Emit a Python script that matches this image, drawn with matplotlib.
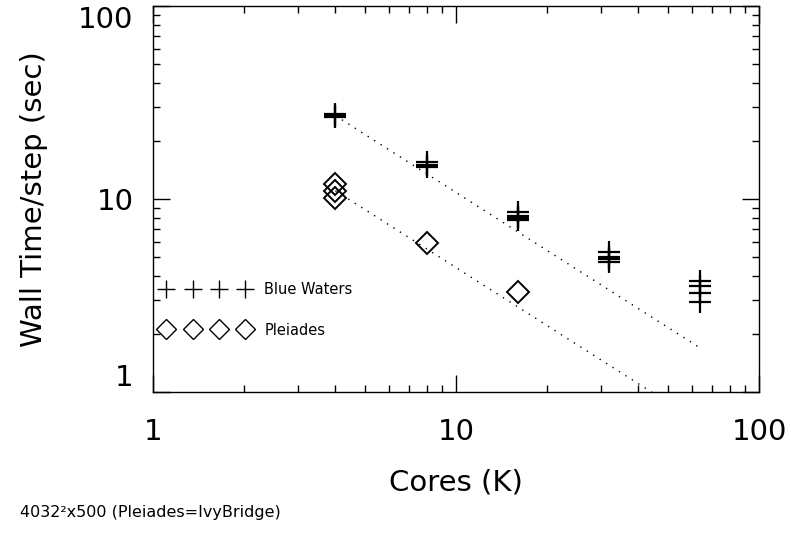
import matplotlib
matplotlib.use("Agg")
import matplotlib.pyplot as plt
import numpy as np
from matplotlib.lines import Line2D

# cores (K) and wall time per step (sec), several runs per core count
bw_cores = [4, 4, 4, 8, 8, 8, 16, 16, 16, 16, 32, 32, 32, 32, 64, 64, 64, 64]
bw_time = [27.5, 27.0, 26.6, 15.5, 15.0, 14.6, 8.6, 8.2, 8.0, 7.8,
           5.3, 5.0, 4.9, 4.7, 3.75, 3.55, 3.25, 2.92]
pl_cores = [4, 4, 4, 8, 16]
pl_time = [12.0, 11.0, 10.1, 5.9, 3.3]

fit_x_bw = np.array([4, 64])
fit_x_pl = np.array([4, 64])

fig = plt.figure(figsize=(7.91, 5.33), dpi=100)
ax = fig.add_axes([153/791, 141/533, 606/791, 386/533])

# ideal scaling lines from the 4K runs
bw0 = np.mean(bw_time[:3])
pl0 = np.mean(pl_time[:3])
ax.plot(fit_x_bw, bw0 * 4 / fit_x_bw, color='black', lw=1.0, ls=(0, (1, 4.5)))
ax.plot(fit_x_pl, pl0 * 4 / fit_x_pl, color='black', lw=1.0, ls=(0, (1, 4.5)))

ax.plot(bw_cores, bw_time, ls='none', marker='+', ms=16, mew=1.6, color='black')
ax.plot(pl_cores, pl_time, ls='none', marker='D', ms=11, mew=1.4,
        mfc='none', mec='black')

ax.set_xscale('log')
ax.set_yscale('log')
ax.set_xlim(1, 100)
ax.set_ylim(1, 100)

ax.set_xticks([1, 10, 100])
ax.set_xticklabels(['1', '10', '100'])
ax.set_yticks([1, 10, 100])
ax.set_yticklabels(['1', '10', '100'])
ax.tick_params(which='both', direction='in', top=True, right=True, color='black')
ax.tick_params(which='major', length=12, width=1, labelsize=21)
ax.tick_params(which='minor', length=5, width=1)
ax.tick_params(axis='x', which='major', pad=19)
ax.tick_params(axis='y', which='major', pad=14)
ylabs = ax.get_yticklabels()
ylabs[0].set_va('bottom')
ylabs[2].set_va('top')
for s in ax.spines.values():
    s.set_linewidth(1.0)

ax.set_xlabel('Cores (K)', fontsize=21, labelpad=16)
ax.set_ylabel('Wall Time/step (sec)', fontsize=21, labelpad=22)

handles = [Line2D([], [], ls='none', marker='+', ms=13, mew=1.0, color='black'),
           Line2D([], [], ls='none', marker='D', ms=10, mew=1.0, mfc='none', mec='black')]
ax.legend(handles, ['Blue Waters', 'Pleiades'], numpoints=4, frameon=False,
          loc='upper left', bbox_to_anchor=(0.015, 0.285), borderaxespad=0,
          borderpad=0, handlelength=6.0, handletextpad=1.0, labelspacing=1.75,
          fontsize=10.5)

fig.text(20/791, 0.039, '4032²x500 (Pleiades=IvyBridge)', fontsize=11.5, va='center')

fig.savefig('out.png', dpi=100)
